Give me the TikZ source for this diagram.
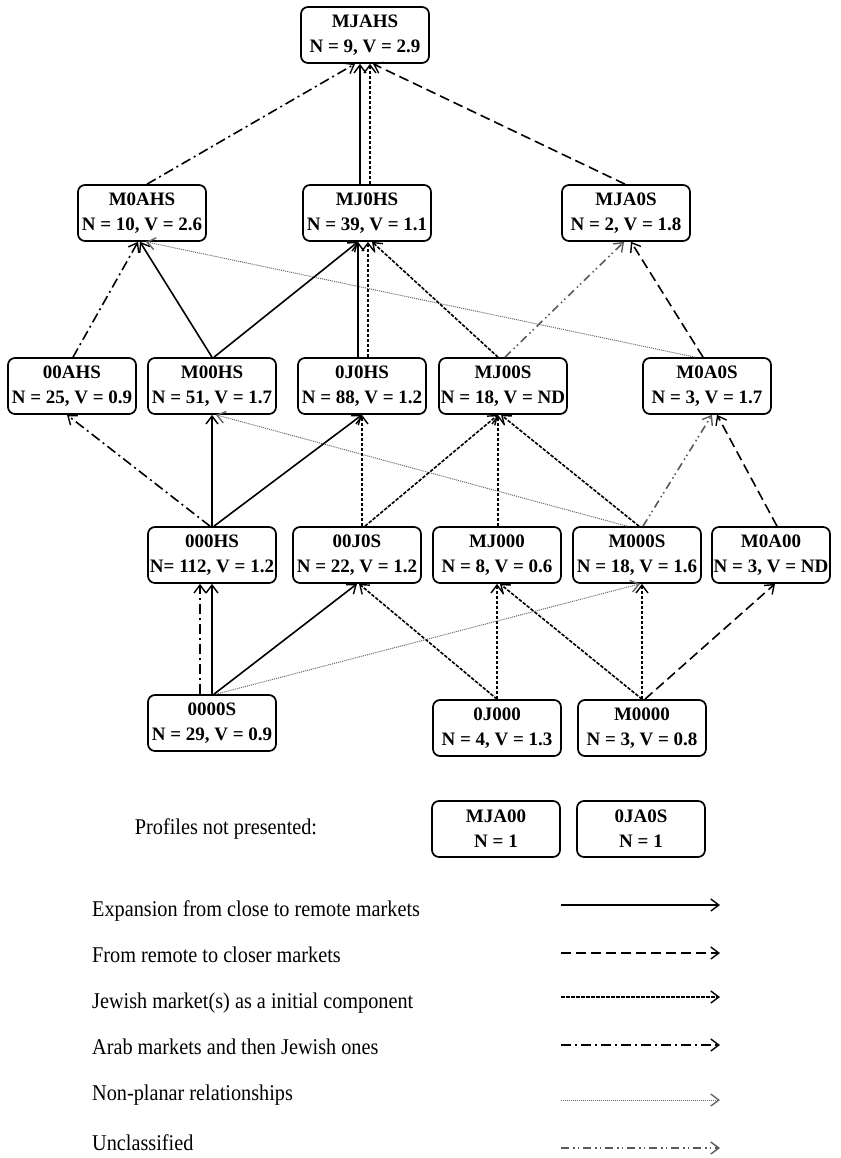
\documentclass[tikz,border=0pt]{standalone}
\usepackage{fontspec}
\setmainfont{Liberation Serif}
\newfontfamily\legfont{Liberation Serif}[FakeStretch=0.9]
\usetikzlibrary{arrows.meta}
\tikzset{
  box/.style={draw, line width=1.7pt, rounded corners=7pt, align=center,
    minimum width=128pt, minimum height=56pt, inner sep=1pt,
    font=\fontsize{19}{25}\selectfont\bfseries},
  lnk/.style={line width=1.6pt, -{Straight Barb[length=8pt,width=12pt,line width=1.4pt]}},
  sol/.style={lnk},
  rem/.style={lnk, dash pattern=on 10pt off 5pt},
  jew/.style={lnk, dash pattern=on 3.5pt off 1.5pt},
  arab/.style={lnk, dash pattern=on 10pt off 4pt on 2pt off 4pt},
  nonp/.style={lnk, line width=1pt, gray!80!black, dash pattern=on 1pt off 1pt},
  uncl/.style={lnk, gray!70!black, dash pattern=on 8pt off 4pt on 1.5pt off 3pt on 1.5pt off 4pt},
  leg/.style={anchor=west, font=\legfont\fontsize{22.5}{26}\selectfont, inner sep=0pt}
}
\begin{document}
\begin{tikzpicture}[x=1pt,y=-1pt]
\useasboundingbox (0,0) rectangle (840,1158);
% row 1
\node[box] (mjahs) at (365,35) {MJAHS\\N = 9, V = 2.9};
% row 2
\node[box] (moahs) at (142,213) {M0AHS\\N = 10, V = 2.6};
\node[box] (mjohs) at (367,213) {MJ0HS\\N = 39, V = 1.1};
\node[box] (mjaos) at (626,213) {MJA0S\\N = 2, V = 1.8};
% row 3
\node[box] (ooahs) at (72,386) {00AHS\\N = 25, V = 0.9};
\node[box] (moohs) at (212,386) {M00HS\\N = 51, V = 1.7};
\node[box] (ojohs) at (362,386) {0J0HS\\N = 88, V = 1.2};
\node[box] (mjoos) at (503,386) {MJ00S\\N = 18, V = ND};
\node[box] (moaos) at (707,386) {M0A0S\\N = 3, V = 1.7};
% row 4
\node[box] (ooohs) at (212,555) {000HS\\N= 112, V = 1.2};
\node[box] (oojos) at (357,555) {00J0S\\N = 22, V = 1.2};
\node[box] (mjooo) at (497,555) {MJ000\\N = 8, V = 0.6};
\node[box] (mooos) at (637,555) {M000S\\N = 18, V = 1.6};
\node[box, minimum width=118pt] (moaoo) at (771,555) {M0A00\\N = 3, V = ND};
% row 5
\node[box] (oooos) at (212,723) {0000S\\N = 29, V = 0.9};
\node[box] (ojooo) at (497,728) {0J000\\N = 4, V = 1.3};
\node[box] (moooo) at (642,728) {M0000\\N = 3, V = 0.8};
% not presented
\node[leg, anchor=center] (npl) at (226,829) {Profiles not presented:};
\node[box] (mjaoo) at (496,829) {MJA00\\N = 1};
\node[box] (ojaos) at (641,829) {0JA0S\\N = 1};

% edges into MJAHS
\draw[arab] ([xshift=5pt]moahs.north) -- ([xshift=-10pt]mjahs.south);
\draw[sol] ([xshift=-7pt]mjohs.north) -- ([xshift=-5pt]mjahs.south);
\draw[jew] ([xshift=3pt]mjohs.north) -- ([xshift=5pt]mjahs.south);
\draw[rem] ([xshift=-1pt]mjaos.north) -- ([xshift=8pt]mjahs.south);
% into M0AHS
\draw[arab] ([xshift=1pt]ooahs.north) -- ([xshift=-4pt]moahs.south);
\draw[sol] (moohs.north) -- ([xshift=-2pt]moahs.south);
\draw[nonp] ([xshift=-12pt]moaos.north) -- ([xshift=4pt]moahs.south);
% into MJ0HS
\draw[sol] ([xshift=2pt]moohs.north) -- ([xshift=-9pt]mjohs.south);
\draw[sol] ([xshift=-4pt]ojohs.north) -- ([xshift=-9pt]mjohs.south);
\draw[jew] ([xshift=6pt]ojohs.north) -- ([xshift=1pt]mjohs.south);
\draw[jew] ([xshift=-5pt]mjoos.north) -- ([xshift=5pt]mjohs.south);
% into MJA0S
\draw[uncl] ([xshift=2pt]mjoos.north) -- ([xshift=-2pt]mjaos.south);
\draw[rem] ([xshift=-4pt]moaos.north) -- ([xshift=5pt]mjaos.south);
% into 00AHS, M00HS, 0J0HS
\draw[arab] ([xshift=-2pt]ooohs.north) -- ([xshift=-5pt]ooahs.south);
\draw[sol] (ooohs.north) -- (moohs.south);
\draw[nonp] ([xshift=-10pt]mooos.north) -- ([xshift=4pt]moohs.south);
\draw[sol] ([xshift=2pt]ooohs.north) -- (ojohs.south);
\draw[jew] ([xshift=5pt]oojos.north) -- (ojohs.south);
% into MJ00S
\draw[jew] ([xshift=8pt]oojos.north) -- ([xshift=-5pt]mjoos.south);
\draw[jew] ([xshift=1pt]mjooo.north) -- ([xshift=-5pt]mjoos.south);
\draw[jew] ([xshift=2pt]mooos.north) -- ([xshift=-2pt]mjoos.south);
% into M0A0S
\draw[uncl] ([xshift=6pt]mooos.north) -- ([xshift=5pt]moaos.south);
\draw[rem] ([xshift=6pt]moaoo.north) -- ([xshift=10pt]moaos.south);
% into 000HS, 00J0S
\draw[arab] ([xshift=-12pt]oooos.north) -- ([xshift=-12pt]ooohs.south);
\draw[sol] (oooos.north) -- (ooohs.south);
\draw[sol] ([xshift=2pt]oooos.north) -- (oojos.south);
\draw[jew] (ojooo.north) -- ([xshift=2pt]oojos.south);
% into MJ000, M000S, M0A00
\draw[jew] (ojooo.north) -- (mjooo.south);
\draw[jew] (moooo.north) -- ([xshift=3pt]mjooo.south);
\draw[nonp] ([xshift=4pt]oooos.north) -- ([xshift=3pt]mooos.south);
\draw[jew] (moooo.north) -- ([xshift=5pt]mooos.south);
\draw[rem] ([xshift=3pt]moooo.north) -- ([xshift=4pt]moaoo.south);

% legend
\node[leg] (t1) at (92,911) {Expansion from close to remote markets};
\node[leg] (t2) at (92,955) {From remote to closer markets};
\node[leg] (t3) at (92,1003) {Jewish market(s) as a initial component};
\node[leg] (t4) at (92,1047) {Arab markets and then Jewish ones};
\node[leg] (t5) at (92,1095) {Non-planar relationships};
\node[leg] (t6) at (92,1143) {Unclassified};
\coordinate (a1) at (561,905); \coordinate (b1) at (720,905);
\coordinate (a2) at (561,953); \coordinate (b2) at (720,953);
\coordinate (a3) at (561,997); \coordinate (b3) at (720,997);
\coordinate (a4) at (561,1045); \coordinate (b4) at (720,1045);
\coordinate (a5) at (561,1100); \coordinate (b5) at (720,1100);
\coordinate (a6) at (561,1148); \coordinate (b6) at (720,1148);
\draw[sol] (a1) -- (b1);
\draw[rem] (a2) -- (b2);
\draw[jew] (a3) -- (b3);
\draw[arab] (a4) -- (b4);
\draw[nonp] (a5) -- (b5);
\draw[uncl] (a6) -- (b6);
\end{tikzpicture}
\end{document}
